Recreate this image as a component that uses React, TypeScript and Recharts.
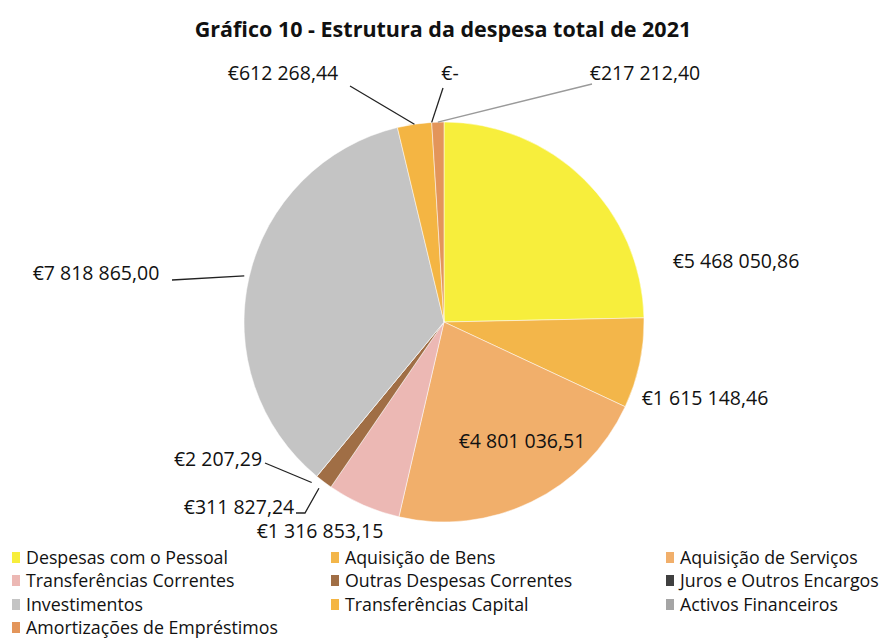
import React from 'react';
import { PieChart, Pie, Cell, Legend } from 'recharts';

const title = 'Gráfico 10 - Estrutura da despesa total de 2021';
const categories = [
  'Despesas com o Pessoal',
  'Aquisição de Bens',
  'Aquisição de Serviços',
  'Transferências Correntes',
  'Outras Despesas Correntes',
  'Juros e Outros Encargos',
  'Investimentos',
  'Transferências Capital',
  'Activos Financeiros',
  'Amortizações de Empréstimos',
];
const values = [5468050.86, 1615148.46, 4801036.51, 1316853.15, 311827.24, 2207.29, 7818865.0, 612268.44, 0, 217212.4];
const colors = ['#F7EE3C', '#F3B64A', '#F1AF6B', '#ECB8B4', '#A06E45', '#404040', '#C4C4C4', '#F4B543', '#A5A5A5', '#E3955A'];

// label placement relative to pie centre (styling only)
const labelOffsets: [number, number][] = [
  [292, -62], [261, 75], [78, 118], [-124, 208], [-205, 184],
  [-226, 136], [-348, -50], [-161, -250], [6, -250], [201, -250],
];
const leaderGap = [0, 0, 0, 0, 8, 8, 5, 0, 0, 0];
const leaderPoints: ([number, number][] | null)[] = [
  null, null, null, null,
  [[-139, 191], [-148, 191]],
  [[-179, 141]],
  [[-272, -42]],
  [[-94, -236]],
  [[-1, -234]],
  [[148, -238]],
];

const data = categories.map((name, i) => ({ name, value: values[i] }));

function fmt(v: number): string {
  if (v === 0) return '€-';
  const [int, dec] = v.toFixed(2).split('.');
  const grouped = int.replace(/\B(?=(\d{3})+(?!\d))/g, ' ');
  return '€' + grouped + ',' + dec;
}

const FONT = '"Open Sans", "Noto Sans", sans-serif';
const RAD = Math.PI / 180;

function renderLabel(props: any) {
  const { cx, cy, midAngle, outerRadius, index, value } = props;
  const [dx, dy] = labelOffsets[index];
  const pts = leaderPoints[index];
  let line = null;
  if (pts) {
    const r = outerRadius + leaderGap[index];
    const sx = cx + r * Math.cos(-midAngle * RAD);
    const sy = cy + r * Math.sin(-midAngle * RAD);
    const all = [[sx, sy], ...pts.map(([px, py]) => [cx + px, cy + py])];
    line = (
      <polyline
        points={all.map((p) => p.join(',')).join(' ')}
        fill="none"
        stroke={index === 9 ? '#9a9a9a' : '#222'}
        strokeWidth={1.3}
      />
    );
  }
  return (
    <g key={`lbl-${index}`}>
      {line}
      <text
        x={cx + dx}
        y={cy + dy}
        textAnchor="middle"
        dominantBaseline="central"
        fill="#111"
        fontSize={19.5}
        fontFamily={FONT}
      >
        {fmt(value)}
      </text>
    </g>
  );
}

const legendCols = [12, 331, 666];
const legendRows = [557, 580, 604, 627];

function renderLegend() {
  return (
    <div style={{ position: 'relative', width: 880, height: 94 }}>
      {categories.map((name, i) => {
        const col = i % 3;
        const row = Math.floor(i / 3);
        return (
          <div
            key={name}
            style={{
              position: 'absolute',
              left: legendCols[col],
              top: legendRows[row] - 545 - 12,
              height: 24,
              display: 'flex',
              alignItems: 'center',
              fontFamily: FONT,
              fontSize: 17.8,
              color: '#111',
              whiteSpace: 'nowrap',
            }}
          >
            <span style={{ display: 'inline-block', width: 8, height: 11, background: colors[i], marginRight: 6 }} />
            {name}
          </div>
        );
      })}
    </div>
  );
}

export default function App() {
  return (
    <div style={{ position: 'absolute', left: 0, top: 0, width: 880, height: 639, background: '#fff' }}>
      <div
        style={{
          position: 'absolute',
          left: 0,
          top: 14,
          width: 886,
          textAlign: 'center',
          fontFamily: FONT,
          fontWeight: 700,
          fontSize: 21.5,
          color: '#111',
        }}
      >
        {title}
      </div>
      <PieChart
        width={880}
        height={639}
        margin={{ top: 0, right: 0, bottom: 0, left: 0 }}
        style={{ position: 'absolute', left: 0, top: 0 }}
      >
        <Pie
          data={data}
          dataKey="value"
          nameKey="name"
          cx={444}
          cy={322}
          outerRadius={200}
          startAngle={90}
          endAngle={-270}
          stroke="#ffffff"
          strokeWidth={0.5}
          label={renderLabel}
          labelLine={false}
          isAnimationActive={false}
        >
          {data.map((d, i) => (
            <Cell key={d.name} fill={colors[i]} />
          ))}
        </Pie>
        <Legend content={renderLegend} wrapperStyle={{ position: 'absolute', left: 0, top: 545, width: 880 }} />
      </PieChart>
    </div>
  );
}
